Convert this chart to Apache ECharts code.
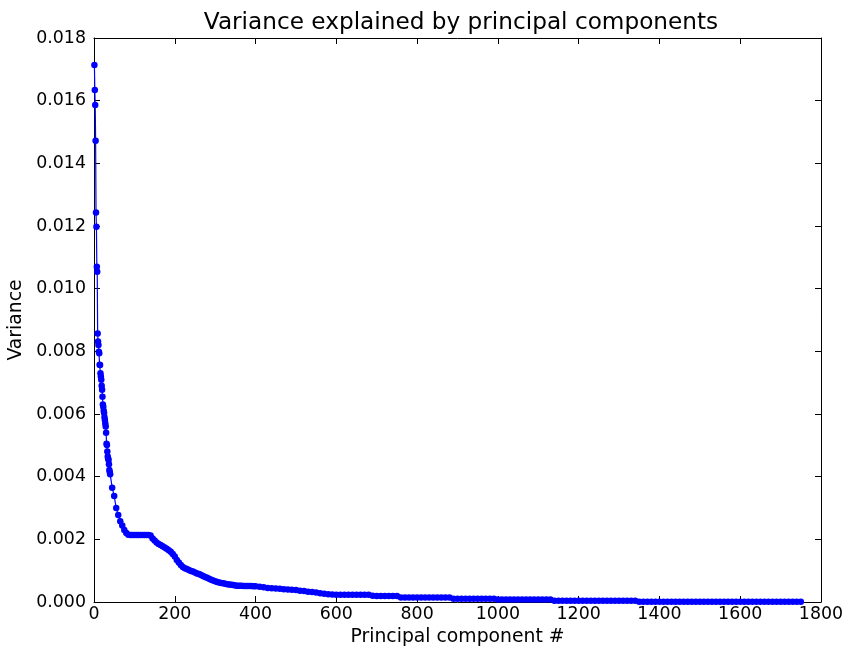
<!DOCTYPE html>
<html>
<head>
<meta charset="utf-8">
<script src="https://cdn.jsdelivr.net/npm/echarts@6/dist/echarts.min.js"></script>
<style>html,body{margin:0;padding:0;background:#fff}#c{width:848px;height:649px}</style>
</head>
<body>
<div id="c"></div>
<script>
// Principal component indices (read positions) and their variances
const headIdx = [1,2,3,4,5,6,7,8,9,10,11,12,13,14,15,16,17,18,19,20,
  21,22,23,24,25,26,27,28,29,30,31,32,33,34,35,36,37,38,39,40];
const headVar = [0.01714,0.01634,0.01586,0.01472,0.01243,0.01198,0.01070,0.01054,0.00857,0.00831,
  0.00820,0.00799,0.00794,0.00757,0.00756,0.00730,0.00720,0.00709,0.00690,0.00677,
  0.00655,0.00630,0.00623,0.00610,0.00603,0.00590,0.00581,0.00570,0.00560,0.00540,
  0.00505,0.00501,0.00480,0.00464,0.00458,0.00453,0.00440,0.00421,0.00415,0.00408];

const midIdx = [45,50,55,60,65,70,75,80,85,90,95,100,105,110,115,120,125,130,135,140,
  145,150,155,160,165,170,175,180,185,190,195,200,205,210,215,220,225,230,235,240,
  245,250,255,260,265,270,275,280,285,290,295,300,305,310,315,320,325,330,335,340,
  345,350,355,360,365,370,375,380,385,390,395,400];
const midVar = [0.00365,0.00338,0.00300,0.00278,0.00258,0.00244,0.00230,0.00220,0.00215,0.00214,
  0.00214,0.00214,0.00214,0.00214,0.00214,0.00214,0.00214,0.00214,0.00214,0.00212,
  0.00203,0.00196,0.00190,0.00185,0.00182,0.00178,0.00174,0.00170,0.00165,0.00160,
  0.00153,0.00145,0.00134,0.00126,0.00118,0.00112,0.00108,0.00105,0.00102,0.00099,
  0.00097,0.00094,0.00091,0.00089,0.00086,0.00083,0.00080,0.00077,0.00074,0.00071,
  0.00069,0.00066,0.00064,0.00062,0.00061,0.00060,0.00058,0.00057,0.00056,0.00055,
  0.00054,0.00053,0.00052,0.00052,0.00052,0.00051,0.00051,0.00051,0.00051,0.00051,
  0.00050,0.00050];

const tailIdx = [410,420,430,440,450,460,470,480,490,500,510,520,530,540,550,560,570,580,590,600,
  610,620,630,640,650,660,670,680,690,700,710,720,730,740,750,760,770,780,790,800,
  810,820,830,840,850,860,870,880,890,900,910,920,930,940,950,960,970,980,990,1000,
  1010,1020,1030,1040,1050,1060,1070,1080,1090,1100,1110,1120,1130,1140,1150,1160,1170,1180,1190,1200,
  1210,1220,1230,1240,1250,1260,1270,1280,1290,1300,1310,1320,1330,1340,1350,1360,1370,1380,1390,1400,
  1410,1420,1430,1440,1450,1460,1470,1480,1490,1500,1510,1520,1530,1540,1550,1560,1570,1580,1590,1600,
  1610,1620,1630,1640,1650,1660,1670,1680,1690,1700,1710,1720,1730,1740,1750];
const tailVar = [0.00049,0.00047,0.00045,0.00044,0.00043,0.00042,0.00041,0.00040,0.00039,0.00038,
  0.00036,0.00035,0.00033,0.00032,0.00030,0.00028,0.00026,0.00025,0.00024,0.00023,
  0.00023,0.00023,0.00023,0.00023,0.00023,0.00023,0.00023,0.00023,0.00020,0.00019,
  0.00019,0.00019,0.00019,0.00019,0.00019,0.00014,0.00014,0.00014,0.00014,0.00014,
  0.00014,0.00014,0.00014,0.00014,0.00014,0.00014,0.00014,0.00014,0.00010,0.00010,
  0.00010,0.00010,0.00010,0.00010,0.00010,0.00010,0.00010,0.00010,0.00010,0.00008,
  0.00008,0.00008,0.00008,0.00008,0.00008,0.00008,0.00008,0.00008,0.00008,0.00008,
  0.00008,0.00008,0.00008,0.00004,0.00004,0.00004,0.00004,0.00004,0.00004,0.00004,
  0.00004,0.00004,0.00004,0.00004,0.00004,0.00004,0.00004,0.00004,0.00004,0.00004,
  0.00004,0.00004,0.00004,0.00004,0.00001,0.00001,0.00001,0.00001,0.00001,0.00001,
  0.00001,0.00001,0.00001,0.00001,0.00001,0.00001,0.00001,0.00001,0.00001,0.00001,
  0.00001,0.00001,0.00001,0.00001,0.00001,0.00001,0.00001,0.00001,0.00001,0.00001,
  0.00001,0.00001,0.00001,0.00001,0.00001,0.00001,0.00001,0.00001,0.00001,0.00001,
  0.00001,0.00001,0.00001,0.00001,0.00001];

const xTicks = [0,200,400,600,800,1000,1200,1400,1600,1800];
const yTicks = [0.000,0.002,0.004,0.006,0.008,0.010,0.012,0.014,0.016,0.018];

const idx = headIdx.concat(midIdx, tailIdx);
const vals = headVar.concat(midVar, tailVar);
const points = idx.map((x, i) => [x, vals[i]]);

const FONT = 'DejaVu Sans';
const chart = echarts.init(document.getElementById('c'), null, {renderer: 'canvas'});
const axisLine = {show: true, onZero: false, lineStyle: {color: '#000', width: 1}};
const tickIn = {show: true, inside: true, length: 6, lineStyle: {color: '#000', width: 1}};

chart.setOption({
  animation: false,
  backgroundColor: '#fff',
  title: {
    text: 'Variance explained by principal components',
    left: 456, top: 6, textAlign: 'center',
    textStyle: {fontFamily: FONT, fontSize: 23.2, fontWeight: 'normal', color: '#000'}
  },
  grid: {left: 94, right: 27, top: 38, bottom: 47, containLabel: false, outerBoundsMode: 'none'},
  xAxis: [{
    type: 'value', min: xTicks[0], max: xTicks[xTicks.length - 1], interval: 200,
    position: 'bottom',
    name: 'Principal component #', nameLocation: 'middle', nameGap: 25,
    nameTextStyle: {fontFamily: FONT, fontSize: 18.8, color: '#000'},
    axisLine, axisTick: tickIn, splitLine: {show: false},
    axisLabel: {fontFamily: FONT, fontSize: 17.4, color: '#000', margin: 4,
      formatter: v => String(v)}
  }, {
    type: 'value', min: xTicks[0], max: xTicks[xTicks.length - 1], interval: 200,
    position: 'top', axisLine, axisTick: tickIn, splitLine: {show: false},
    axisLabel: {show: false}
  }],
  yAxis: [{
    type: 'value', min: yTicks[0], max: yTicks[yTicks.length - 1], interval: 0.002,
    position: 'left',
    name: 'Variance', nameLocation: 'middle', nameGap: 66,
    nameTextStyle: {fontFamily: FONT, fontSize: 18.8, color: '#000'},
    axisLine, axisTick: tickIn, splitLine: {show: false},
    axisLabel: {fontFamily: FONT, fontSize: 17.4, color: '#000', margin: 8,
      formatter: v => v.toFixed(3)}
  }, {
    type: 'value', min: yTicks[0], max: yTicks[yTicks.length - 1], interval: 0.002,
    position: 'right', axisLine, axisTick: tickIn, splitLine: {show: false},
    axisLabel: {show: false}
  }],
  series: [{
    type: 'line',
    data: points,
    xAxisIndex: 0, yAxisIndex: 0,
    symbol: 'circle', symbolSize: 6.5, showAllSymbol: true,
    itemStyle: {color: '#0000ff'},
    lineStyle: {color: '#0000ff', width: 1.2},
    clip: true
  }]
});
</script>
</body>
</html>
